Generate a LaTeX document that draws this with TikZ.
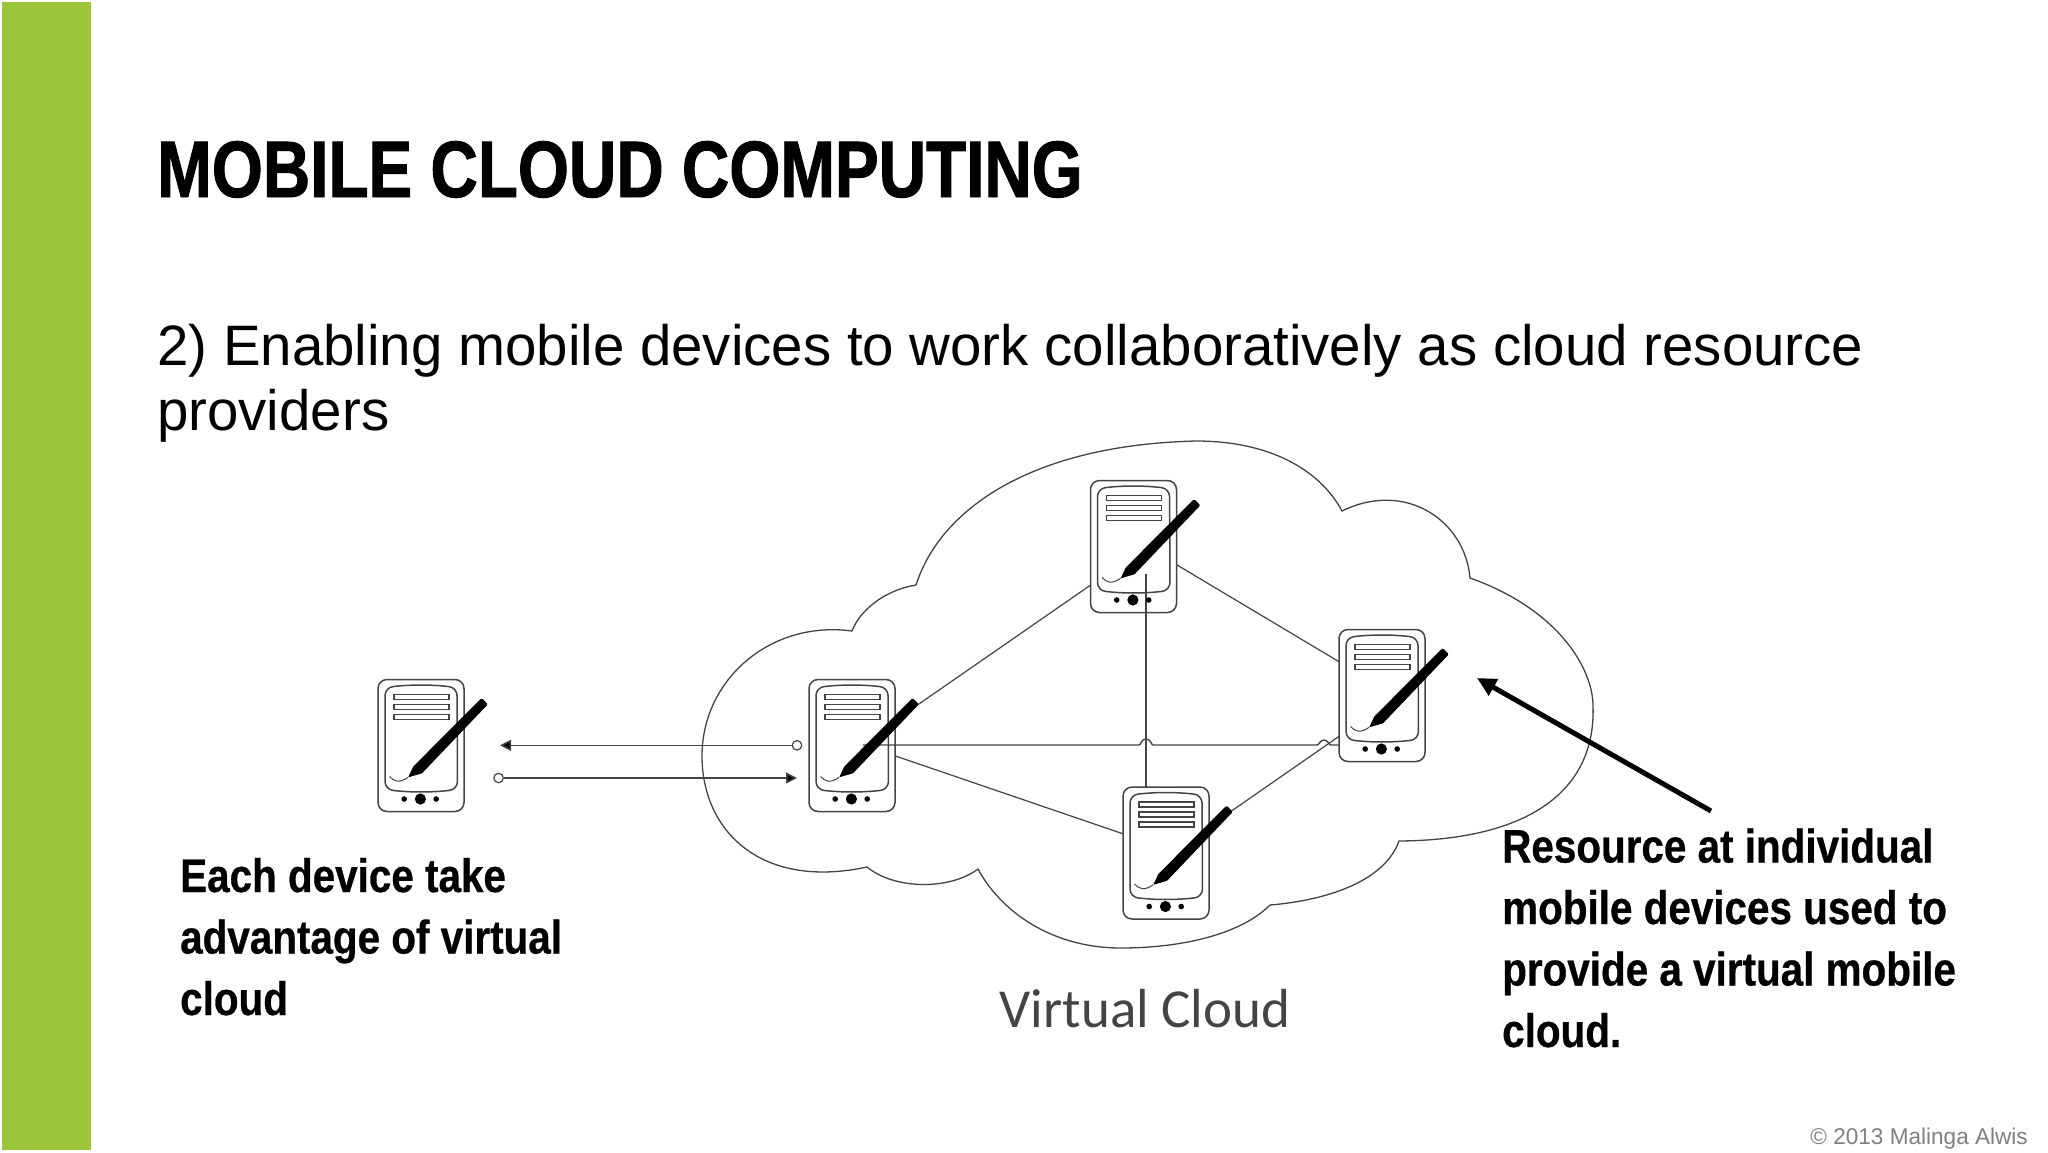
\documentclass[tikz,border=0pt]{standalone}
\usepackage{fontspec}
\usetikzlibrary{arrows.meta}
\setmainfont{Liberation Sans}
\newfontfamily\headfont[FakeStretch=0.82,FakeBold=1.2]{Liberation Sans Bold}
\newfontfamily\labelfont[FakeStretch=0.86,FakeBold=0.6]{Liberation Sans Bold}
\newfontfamily\bodyfont[FakeStretch=0.99]{Liberation Sans}
\newfontfamily\capfont{Carlito}
\definecolor{barcol}{HTML}{9BC53A}
\definecolor{linecol}{HTML}{444444}
\tikzset{
 x=1pt,y=-1pt,
 cloudline/.style={draw=linecol,line width=1.3pt},
 link/.style={draw=linecol,line width=1.2pt},
 flow/.style={draw=linecol,line width=1.5pt,-{Triangle[length=11pt,width=11pt,fill=black]}},
 flowstart/.style={circle,draw=linecol,fill=white,line width=1.2pt,inner sep=0pt,minimum size=9.5pt},
 devbody/.style={rectangle,draw=linecol,line width=1.5pt,rounded corners=9pt,minimum width=86pt,minimum height=132pt,inner sep=0pt},
 bigtext/.style={anchor=base west,align=left,inner sep=0pt,font=\labelfont\fontsize{47}{61.5}\selectfont},
 dev/.pic={
  \draw[linecol,line width=1.5pt,rounded corners=8pt] (-36,-58) .. controls (-10,-61) and (10,-61) .. (36,-58) -- (36.5,44) .. controls (10,47) and (-10,47) .. (-36,44) -- cycle;
  \foreach \yy in {-51,-41,-31}{\draw[linecol,line width=1.3pt] (-27,\yy) rectangle (28,\yy+5);}
  \fill[black] (-16.8,53.5) circle (2.8);
  \fill[black] (-.6,53.5) circle (5.6);
  \fill[black] (15.2,53.5) circle (2.8);
  \draw[linecol,line width=1pt] (-31.4,31) .. controls (-27,36) and (-22,38) .. (-12.8,31.8);
  \fill[black,rounded corners=.8pt] (-12.8,31.8) -- (-7.7,21) -- (59,-46) -- (61,-47) -- (66.2,-42) -- (66.2,-40.5) -- (1,27.8) -- cycle;
 }
}
\begin{document}
\begin{tikzpicture}
\useasboundingbox (0,0) rectangle (2048,1152);
\fill[white] (0,0) rectangle (2048,1152);
\fill[barcol] (2,2) rectangle (91,1150);

\node[anchor=base west,inner sep=0pt,text=black] (title) at (157,197) {\headfont\fontsize{80}{80}\selectfont MOBILE CLOUD COMPUTING};
\node[anchor=base west,inner sep=0pt,text=black] (sub1) at (157,365) {\bodyfont\fontsize{57}{57}\selectfont 2) Enabling mobile devices to work collaboratively as cloud resource};
\node[anchor=base west,inner sep=0pt,text=black] (sub2) at (157,430) {\bodyfont\fontsize{57}{57}\selectfont providers};

% cloud
\path[cloudline] (916,585)
 .. controls (940,510) and (1030,445) .. (1196,441)
 .. controls (1270,441) and (1320,470) .. (1342,511)
 .. controls (1405,480) and (1465,520) .. (1470,578)
 .. controls (1560,610) and (1593,670) .. (1593,706)
 .. controls (1596,790) and (1530,840) .. (1399,841)
 .. controls (1385,880) and (1330,900) .. (1270,905)
 .. controls (1240,935) and (1180,948) .. (1121,948)
 .. controls (1050,948) and (1000,910) .. (978,869)
 .. controls (950,890) and (895,890) .. (867,867)
 .. controls (760,890) and (702,830) .. (702,756)
 .. controls (702,680) and (770,620) .. (852,631)
 .. controls (860,610) and (885,590) .. (916,585);

% devices
\node[devbody] (d0) at (421,745.5) {};
\node[devbody] (d1) at (852,745.5) {};
\node[devbody] (d2) at (1133.5,546.5) {};
\node[devbody] (d3) at (1382,695.5) {};
\node[devbody] (d4) at (1166,853) {};

% links
\coordinate (p1) at (918,704.6);
\coordinate (q2) at (1090.7,585);
\draw[link] (p1) -- (q2);
\coordinate (r2) at (1176.4,564.6);
\coordinate (l3) at (1339.5,662);
\draw[link] (r2) -- (l3);
\coordinate (v2) at (1146,573.6);
\coordinate (v4) at (1146,788);
\draw[link] (v2) -- (v4);
\coordinate (r1) at (894.6,755.7);
\coordinate (l4) at (1123.6,834);
\draw[link] (r1) -- (l4);
\coordinate (r4) at (1231.5,811);
\coordinate (b3) at (1339.5,736);
\draw[link] (r4) -- (b3);
\coordinate (h1) at (863,745);
\coordinate (h3) at (1339.5,745);
\draw[link,line width=1.4pt] (h1) -- (1139,745) .. controls (1141,745) and (1141,739) .. (1146,739) .. controls (1151,739) and (1151,745) .. (1153,745) -- (1317,745) .. controls (1319,745) and (1320,740) .. (1324,740) .. controls (1328,740) and (1329,745) .. (1331,745) -- (h3);

\foreach \n in {d0,d1,d2,d3,d4} \path (\n) pic {dev};

% flows
\node[flowstart] (c1) at (797,745.3) {};
\node[flowstart] (c0) at (498.6,778) {};
\coordinate (t0) at (500,745.3);
\coordinate (t1) at (797,778);
\draw[flow] (c1) -- (t0);
\draw[flow] (c0) -- (t1);

% big arrow
\coordinate (ba) at (1711,811);
\coordinate (bb) at (1477,678);
\draw[line width=5pt,-{Triangle[length=19pt,width=18pt]}] (ba) -- (bb);

% labels
\node[bigtext] (leftlab) at (180,1015) {Each device take\\advantage of virtual\\cloud};
\node[bigtext] (rightlab) at (1502,1047) {Resource at individual\\mobile devices used to\\provide a virtual mobile\\cloud.};
\node[anchor=base,inner sep=0pt,text=linecol] (vc) at (1145,1027) {\capfont\fontsize{55}{55}\selectfont Virtual Cloud};
\node[anchor=base east,inner sep=0pt,text=gray] (copy) at (2028,1144) {\bodyfont\fontsize{22.8}{23}\selectfont © 2013 Malinga Alwis};
\end{tikzpicture}
\end{document}
